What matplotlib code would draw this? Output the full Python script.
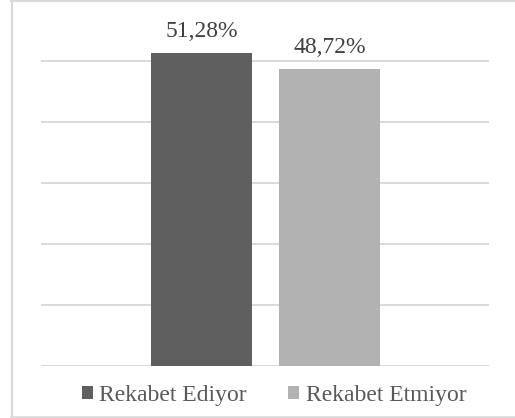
import matplotlib
matplotlib.use("Agg")
import matplotlib.pyplot as plt
from matplotlib.patches import Patch
from matplotlib.lines import Line2D

# data
series = ["Rekabet Ediyor", "Rekabet Etmiyor"]
values = [51.28, 48.72]
colors = ["#5f5f5f", "#b2b2b2"]
gridticks = [0, 10, 20, 30, 40, 50]

plt.rcParams["font.family"] = ["Liberation Serif", "DejaVu Serif"]

W, H = 515, 418
fig = plt.figure(figsize=(W / 100, H / 100), dpi=100)
ax = fig.add_axes([41 / W, 52 / H, 448 / W, 366 / H])

xpos = [0.358, 0.644]
bars = ax.bar(xpos, values, width=0.2254, color=colors, zorder=3)
labels = [("%.2f" % v).replace(".", ",") + "%" for v in values]
ax.bar_label(bars, labels=labels, padding=8, fontsize=17, color="#404040")

ax.set_xlim(0, 1)
ax.set_ylim(0, 60)
ax.set_yticks(gridticks)
ax.grid(axis="y", color="#d9d9d9", linewidth=1.4, zorder=0)
ax.tick_params(left=False, bottom=False, labelleft=False, labelbottom=False)
for s in ax.spines.values():
    s.set_visible(False)

# outer chart frame (left, top, bottom edges)
fc = "#d9d9d9"
fig.add_artist(Line2D([11.5 / W, 11.5 / W], [0, 1], color=fc, lw=1.5))
fig.add_artist(Line2D([11 / W, 1], [417.3 / H, 417.3 / H], color=fc, lw=1.5))
fig.add_artist(Line2D([11 / W, 1], [1.5 / H, 1.5 / H], color=fc, lw=1.8))

handles = [Patch(facecolor=c, edgecolor="none") for c in colors]
fig.legend(handles, series, loc="center", bbox_to_anchor=(274 / W, 1 - 395 / H),
           ncol=2, frameon=False, fontsize=17, labelcolor="#595959",
           handlelength=0.47, handleheight=0.47, handletextpad=0.27,
           columnspacing=1.74, borderpad=0)

fig.savefig("out.png", dpi=100)
